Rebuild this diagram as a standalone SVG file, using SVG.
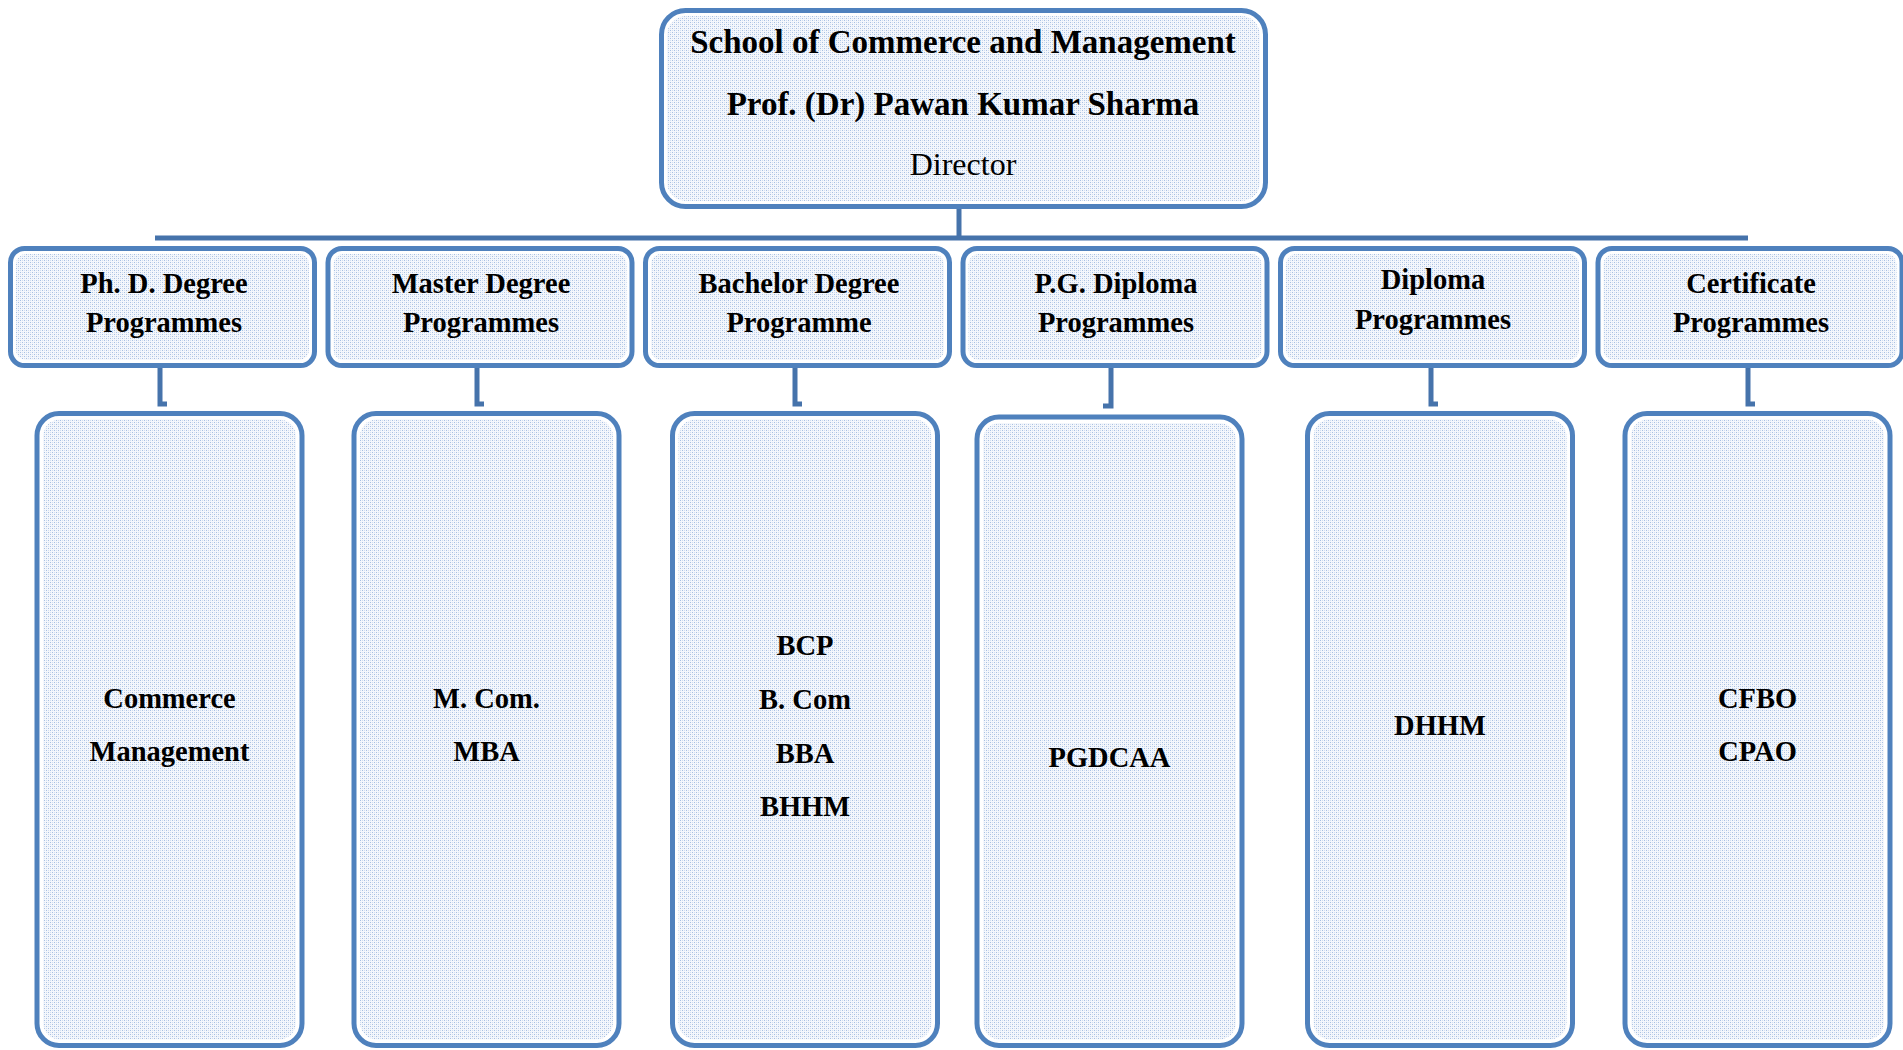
<svg xmlns="http://www.w3.org/2000/svg" width="1903" height="1050" viewBox="0 0 1903 1050">
<style>
.box{fill:#ffffff;stroke:#4f81bd;stroke-width:5}
.in{fill:url(#dots)}
.t{font-family:"Liberation Serif","Times New Roman",serif;font-weight:bold;font-size:28.5px;fill:#000;text-anchor:middle}
.tt{font-family:"Liberation Serif","Times New Roman",serif;font-weight:bold;font-size:33px;fill:#000;text-anchor:middle}
.tr{font-family:"Liberation Serif","Times New Roman",serif;font-size:32px;fill:#000;text-anchor:middle}
.c{fill:none;stroke:#4673ab;stroke-width:5}
</style>
<defs>
<pattern id="dots" patternUnits="userSpaceOnUse" width="4" height="4">
<rect width="4" height="4" fill="#f4f7fc"/>
<rect x="0" y="0" width="1" height="1" fill="#a8c0e2"/>
<rect x="2" y="2" width="1" height="1" fill="#a8c0e2"/>
<rect x="2" y="0" width="1" height="1" fill="#d2def0"/>
<rect x="0" y="2" width="1" height="1" fill="#d2def0"/>
</pattern>
</defs>
<rect width="1903" height="1050" fill="#ffffff"/>

<g id="connectors">
<path class="c" d="M959 207 V238"/>
<path class="c" d="M155 238 H1748"/>
<path class="c" d="M160 368 V404 H167"/>
<path class="c" d="M477 368 V404 H484"/>
<path class="c" d="M795 368 V404 H802"/>
<path class="c" d="M1111 368 V406 H1103"/>
<path class="c" d="M1431 368 V404 H1438"/>
<path class="c" d="M1748 368 V404 H1755"/>
</g>

<g id="director">
<rect class="box" x="661.5" y="10.5" width="604" height="196" rx="24"/>
<rect class="in" x="667" y="16" width="593" height="185" rx="19"/>
<text class="tt" x="963" y="53">School of Commerce and Management</text>
<text class="tt" x="963" y="115">Prof. (Dr) Pawan Kumar Sharma</text>
<text class="tr" x="963" y="175">Director</text>
</g>

<g id="phd">
<rect class="box" x="10.5" y="248.5" width="304" height="117" rx="14"/>
<rect class="in" x="16" y="254" width="293" height="106" rx="10"/>
<text class="t" x="164" y="293">Ph. D. Degree</text>
<text class="t" x="164" y="332">Programmes</text>
</g>
<g id="master">
<rect class="box" x="328" y="248.5" width="304" height="117" rx="14"/>
<rect class="in" x="333.5" y="254" width="293" height="106" rx="10"/>
<text class="t" x="481" y="293">Master Degree</text>
<text class="t" x="481" y="332">Programmes</text>
</g>
<g id="bachelor">
<rect class="box" x="645.5" y="248.5" width="304" height="117" rx="14"/>
<rect class="in" x="651" y="254" width="293" height="106" rx="10"/>
<text class="t" x="799" y="293">Bachelor Degree</text>
<text class="t" x="799" y="332">Programme</text>
</g>
<g id="pgdiploma">
<rect class="box" x="963" y="248.5" width="304" height="117" rx="14"/>
<rect class="in" x="968.5" y="254" width="293" height="106" rx="10"/>
<text class="t" x="1116" y="293">P.G. Diploma</text>
<text class="t" x="1116" y="332">Programmes</text>
</g>
<g id="diploma">
<rect class="box" x="1280.5" y="248.5" width="304" height="117" rx="14"/>
<rect class="in" x="1286" y="254" width="293" height="106" rx="10"/>
<text class="t" x="1433" y="289">Diploma</text>
<text class="t" x="1433" y="329">Programmes</text>
</g>
<g id="certificate">
<rect class="box" x="1598" y="248.5" width="304" height="117" rx="14"/>
<rect class="in" x="1603.5" y="254" width="293" height="106" rx="10"/>
<text class="t" x="1751" y="293">Certificate</text>
<text class="t" x="1751" y="332">Programmes</text>
</g>

<g id="phd-list">
<rect class="box" x="37" y="413.5" width="265" height="632" rx="22"/>
<rect class="in" x="43" y="419.5" width="253" height="620" rx="17"/>
<text class="t" x="169.5" y="708">Commerce</text>
<text class="t" x="169.5" y="761">Management</text>
</g>
<g id="master-list">
<rect class="box" x="354" y="413.5" width="265" height="632" rx="22"/>
<rect class="in" x="360" y="419.5" width="253" height="620" rx="17"/>
<text class="t" x="486.5" y="708">M. Com.</text>
<text class="t" x="486.5" y="761">MBA</text>
</g>
<g id="bachelor-list">
<rect class="box" x="672.5" y="413.5" width="265" height="632" rx="22"/>
<rect class="in" x="678.5" y="419.5" width="253" height="620" rx="17"/>
<text class="t" x="805" y="655">BCP</text>
<text class="t" x="805" y="709">B. Com</text>
<text class="t" x="805" y="763">BBA</text>
<text class="t" x="805" y="816">BHHM</text>
</g>
<g id="pgdiploma-list">
<rect class="box" x="977" y="417" width="265" height="628.5" rx="22"/>
<rect class="in" x="983" y="423" width="253" height="616.5" rx="17"/>
<text class="t" x="1109.5" y="767">PGDCAA</text>
</g>
<g id="diploma-list">
<rect class="box" x="1307.5" y="413.5" width="265" height="632" rx="22"/>
<rect class="in" x="1313.5" y="419.5" width="253" height="620" rx="17"/>
<text class="t" x="1440" y="735">DHHM</text>
</g>
<g id="certificate-list">
<rect class="box" x="1625" y="413.5" width="265" height="632" rx="22"/>
<rect class="in" x="1631" y="419.5" width="253" height="620" rx="17"/>
<text class="t" x="1757.5" y="708">CFBO</text>
<text class="t" x="1757.5" y="761">CPAO</text>
</g>
</svg>
